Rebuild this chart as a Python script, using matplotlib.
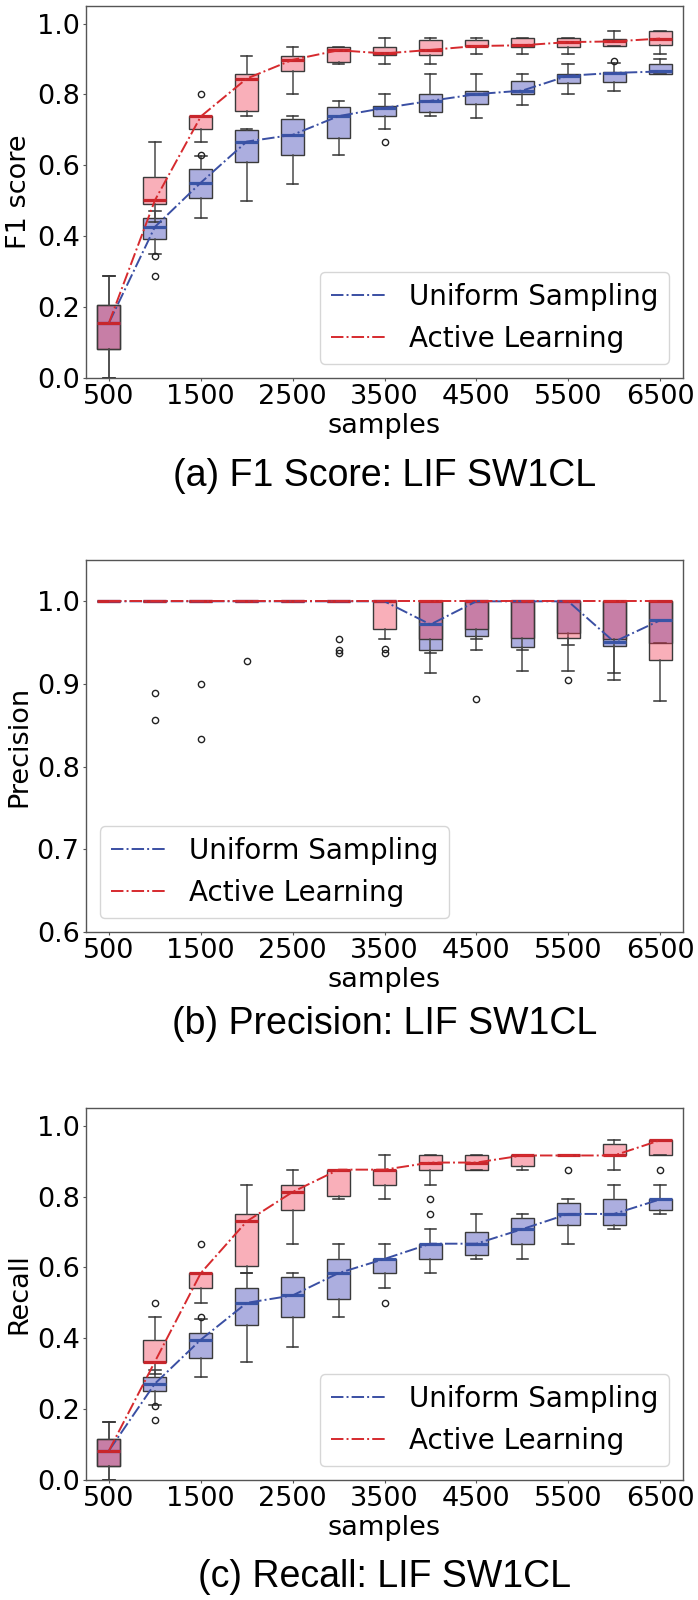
import numpy as np
import matplotlib
matplotlib.use("Agg")
import matplotlib.pyplot as plt

samples = [500, 1000, 1500, 2000, 2500, 3000, 3500, 4000, 4500, 5000, 5500, 6000, 6500]
xtick_vals = [500, 1500, 2500, 3500, 4500, 5500, 6500]

# ---------------- F1 score ----------------
f1_uni_med = [0.155, 0.426, 0.551, 0.667, 0.686, 0.739, 0.762, 0.782, 0.801, 0.811, 0.853, 0.861, 0.865]
f1_uni_q1  = [0.080, 0.391, 0.507, 0.609, 0.630, 0.677, 0.738, 0.750, 0.773, 0.801, 0.832, 0.835, 0.859]
f1_uni_q3  = [0.205, 0.452, 0.589, 0.699, 0.730, 0.766, 0.768, 0.801, 0.809, 0.837, 0.859, 0.863, 0.886]
f1_uni_lo  = [0.000, 0.350, 0.452, 0.500, 0.547, 0.630, 0.703, 0.738, 0.733, 0.770, 0.801, 0.811, 0.859]
f1_uni_hi  = [0.287, 0.470, 0.625, 0.703, 0.738, 0.782, 0.801, 0.859, 0.859, 0.859, 0.885, 0.888, 0.900]
f1_uni_fl  = [[], [0.345, 0.287], [0.630], [], [], [], [0.667], [], [], [], [], [0.895], []]

f1_act_med = [0.155, 0.501, 0.738, 0.845, 0.898, 0.925, 0.916, 0.926, 0.937, 0.939, 0.948, 0.950, 0.958]
f1_act_q1  = [0.080, 0.490, 0.703, 0.754, 0.865, 0.892, 0.911, 0.911, 0.937, 0.935, 0.935, 0.937, 0.939]
f1_act_q3  = [0.205, 0.566, 0.738, 0.859, 0.910, 0.935, 0.935, 0.953, 0.953, 0.959, 0.959, 0.958, 0.980]
f1_act_lo  = [0.000, 0.440, 0.667, 0.738, 0.801, 0.886, 0.886, 0.885, 0.915, 0.915, 0.915, 0.937, 0.915]
f1_act_hi  = [0.287, 0.667, 0.738, 0.910, 0.935, 0.935, 0.959, 0.959, 0.959, 0.959, 0.959, 0.980, 0.980]
f1_act_fl  = [[], [], [0.801], [], [], [], [], [], [], [], [], [], []]

# ---------------- Precision ----------------
pr_uni_med = [1.0, 1.0, 1.0, 1.0, 1.0, 1.0, 1.0, 0.972, 1.0, 1.0, 1.0, 0.951, 0.977]
pr_uni_q1  = [1.0, 1.0, 1.0, 1.0, 1.0, 1.0, 1.0, 0.941, 0.958, 0.945, 0.962, 0.946, 0.950]
pr_uni_q3  = [1.0] * 13
pr_uni_lo  = [1.0, 1.0, 1.0, 1.0, 1.0, 1.0, 1.0, 0.913, 0.941, 0.916, 0.947, 0.905, 0.950]
pr_uni_hi  = [1.0] * 13
pr_uni_fl  = [[], [0.889, 0.857], [0.900, 0.833], [0.928], [], [0.954, 0.941, 0.937], [],
              [], [0.882], [], [], [], []]

pr_act_med = [1.0] * 13
pr_act_q1  = [1.0, 1.0, 1.0, 1.0, 1.0, 1.0, 0.967, 0.955, 0.967, 0.956, 0.956, 0.955, 0.929]
pr_act_q3  = [1.0] * 13
pr_act_lo  = [1.0, 1.0, 1.0, 1.0, 1.0, 1.0, 0.954, 0.937, 0.954, 0.941, 0.916, 0.913, 0.880]
pr_act_hi  = [1.0] * 13
pr_act_fl  = [[], [], [], [], [], [], [0.942, 0.937], [], [], [], [0.905], [], []]

# ---------------- Recall ----------------
re_uni_med = [0.083, 0.272, 0.396, 0.500, 0.521, 0.584, 0.624, 0.667, 0.667, 0.708, 0.751, 0.751, 0.792]
re_uni_q1  = [0.040, 0.250, 0.344, 0.438, 0.460, 0.511, 0.584, 0.624, 0.636, 0.667, 0.719, 0.719, 0.761]
re_uni_q3  = [0.115, 0.292, 0.416, 0.542, 0.573, 0.624, 0.624, 0.667, 0.699, 0.739, 0.782, 0.792, 0.792]
re_uni_lo  = [0.000, 0.212, 0.292, 0.334, 0.376, 0.460, 0.542, 0.584, 0.625, 0.624, 0.667, 0.708, 0.751]
re_uni_hi  = [0.165, 0.310, 0.455, 0.584, 0.583, 0.667, 0.667, 0.708, 0.751, 0.751, 0.792, 0.833, 0.833]
re_uni_fl  = [[], [0.209, 0.168], [0.460], [], [], [], [0.500], [0.751, 0.792], [], [], [], [], []]

re_act_med = [0.083, 0.334, 0.584, 0.730, 0.813, 0.876, 0.876, 0.896, 0.896, 0.916, 0.916, 0.916, 0.959]
re_act_q1  = [0.040, 0.334, 0.542, 0.604, 0.761, 0.802, 0.833, 0.876, 0.876, 0.885, 0.916, 0.916, 0.916]
re_act_q3  = [0.115, 0.396, 0.584, 0.751, 0.833, 0.876, 0.876, 0.916, 0.916, 0.916, 0.916, 0.948, 0.959]
re_act_lo  = [0.000, 0.300, 0.500, 0.584, 0.667, 0.793, 0.793, 0.833, 0.876, 0.876, 0.916, 0.876, 0.916]
re_act_hi  = [0.165, 0.460, 0.584, 0.833, 0.876, 0.876, 0.916, 0.916, 0.916, 0.916, 0.916, 0.959, 0.959]
re_act_fl  = [[], [0.500], [0.667], [], [], [], [], [], [], [], [0.876], [], [0.876]]

titles = ["(a) F1 Score: LIF SW1CL", "(b) Precision: LIF SW1CL", "(c) Recall: LIF SW1CL"]
ylabels = ["F1 score", "Precision", "Recall"]
series_labels = ["Uniform Sampling", "Active Learning"]

# ---------------- styling ----------------
BLUE_FACE = (0.28, 0.30, 0.72, 0.45)
RED_FACE = (0.95, 0.22, 0.32, 0.40)
BLUE_MED = "#3a55a6"
RED_MED = "#c8262c"
BLUE_LINE = "#3a4fa3"
RED_LINE = "#d62a2e"
EDGE = "#3a3a3a"
FS = 19.5

fig = plt.figure(figsize=(6.98, 16.0), dpi=100)

panel_rects = [
    [86 / 698, 1 - 377.7 / 1600, 597 / 698, 371.7 / 1600],
    [86 / 698, 1 - 932 / 1600, 597 / 698, 372 / 1600],
    [86 / 698, 1 - 1480 / 1600, 597 / 698, 372 / 1600],
]
title_y = [1 - 476 / 1600, 1 - 1024 / 1600, 1 - 1577 / 1600]


def make_stats(med, q1, q3, lo, hi, fl):
    return [dict(med=m, q1=a, q3=b, whislo=l, whishi=h, fliers=f)
            for m, a, b, l, h, f in zip(med, q1, q3, lo, hi, fl)]


data = [
    ((f1_uni_med, f1_uni_q1, f1_uni_q3, f1_uni_lo, f1_uni_hi, f1_uni_fl),
     (f1_act_med, f1_act_q1, f1_act_q3, f1_act_lo, f1_act_hi, f1_act_fl)),
    ((pr_uni_med, pr_uni_q1, pr_uni_q3, pr_uni_lo, pr_uni_hi, pr_uni_fl),
     (pr_act_med, pr_act_q1, pr_act_q3, pr_act_lo, pr_act_hi, pr_act_fl)),
    ((re_uni_med, re_uni_q1, re_uni_q3, re_uni_lo, re_uni_hi, re_uni_fl),
     (re_act_med, re_act_q1, re_act_q3, re_act_lo, re_act_hi, re_act_fl)),
]
ylims = [(0, 1.05), (0.6, 1.05), (0, 1.05)]
yticks = [np.arange(0, 1.01, 0.2), np.arange(0.6, 1.01, 0.1), np.arange(0, 1.01, 0.2)]
legend_locs = ["lower right", "lower left", "lower right"]

for i in range(3):
    ax = fig.add_axes(panel_rects[i])
    uni, act = data[i]
    for stats, face, medc in ((make_stats(*uni), BLUE_FACE, BLUE_MED),
                              (make_stats(*act), RED_FACE, RED_MED)):
        ax.bxp(stats, positions=samples, widths=250, patch_artist=True,
               showfliers=True, manage_ticks=False,
               boxprops=dict(facecolor=face, edgecolor=EDGE, linewidth=1.0),
               medianprops=dict(color=medc, linewidth=2.3),
               whiskerprops=dict(color="#4a4a4a", linewidth=1.1),
               capprops=dict(color="#333333", linewidth=1.1),
               flierprops=dict(marker="o", markerfacecolor="none",
                               markeredgecolor="#222222", markersize=4.5,
                               markeredgewidth=1.0))
    l1, = ax.plot(samples, uni[0], linestyle="-.", color=BLUE_LINE, linewidth=1.4,
                  zorder=6, label=series_labels[0])
    l2, = ax.plot(samples, act[0], linestyle="-.", color=RED_LINE, linewidth=1.4,
                  zorder=6, label=series_labels[1])

    ax.set_xlim(250, 6750)
    ax.set_ylim(*ylims[i])
    ax.set_xticks(xtick_vals)
    ax.set_xticklabels([str(v) for v in xtick_vals])
    ax.set_yticks(yticks[i])
    ax.set_yticklabels([f"{v:.1f}" for v in yticks[i]])
    ax.tick_params(axis="both", labelsize=FS, length=2.5, pad=2, color="#555555")
    for sp in ax.spines.values():
        sp.set_color("#555555")
        sp.set_linewidth(1.0)

    ax.set_xlabel("samples", fontsize=FS)
    ax.xaxis.label.set_va("center")
    ax.xaxis.set_label_coords(0.5, -48 / 372)
    ax.set_ylabel(ylabels[i], fontsize=FS)
    ax.yaxis.label.set_va("center")
    ax.yaxis.set_label_coords((19 - 86) / 597, 0.5)

    ax.legend(handles=[l1, l2], loc=legend_locs[i], fontsize=20)

    fig.text((86 + 683) / 2 / 698, title_y[i], titles[i], fontsize=27,
             family=["Liberation Sans", "DejaVu Sans"], ha="center", va="center")

fig.savefig("out.png", dpi=100)
